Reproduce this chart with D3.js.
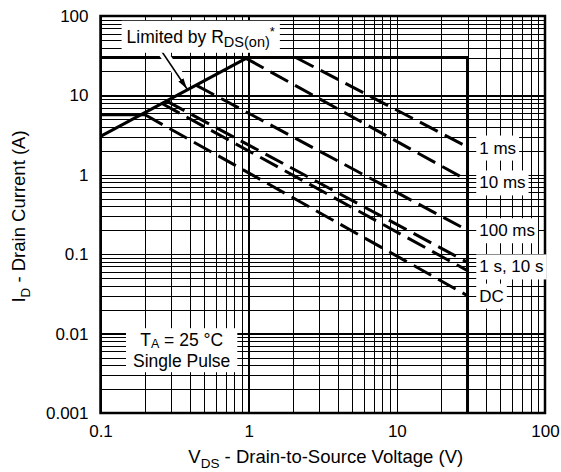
<!DOCTYPE html>
<html>
<head>
<meta charset="utf-8">
<style>
    body { margin: 0; background: #fff; }
    svg { font-family: "Liberation Sans", Arial, Helvetica, sans-serif; }
    .grid path { display: none; }
    .grid line { stroke: #000; shape-rendering: crispEdges; }
    .grid text { font-family: "Liberation Sans", Arial, Helvetica, sans-serif; font-size: 17px; fill: #000; }
    .frame { fill: none; stroke: #000; stroke-width: 2.5; }
    .limit { fill: none; stroke: #000; stroke-width: 3; }
    .pulse { fill: none; stroke: #000; stroke-width: 3; stroke-dasharray: 20 8; }
    .box { fill: #fff; }
    .lbl { font-size: 17px; fill: #000; }
    .title { font-size: 18.5px; fill: #000; }
</style>
</head>
<body>
<div id="chart"></div>
<script src="https://cdn.jsdelivr.net/npm/d3@7/dist/d3.min.js"></script>
<script>

//////////////////// data ////////////////////
let xDecades = [0.1, 1, 10, 100];
let xTickLabels = ['0.1', '1', '10', '100'];
let yDecades = [0.001, 0.01, 0.1, 1, 10, 100];
let yTickLabels = ['0.001', '0.01', '0.1', '1', '10', '100'];

// limite RDS(on)
let rdsV = [0.1, 0.96];
let rdsI = [3.05, 29.3];
// limite courant max / tension max
let maxV = [0.1, 30, 30];
let maxI = [30, 30, 0.001];
// limite courant DC
let dcMaxV = [0.1, 0.2];
let dcMaxI = [5.7, 5.7];

// courbes impulsion : debut sur la limite, fin a 30 V
let pulseNames = ['1 ms', '10 ms', '100 ms', '1 s', '10 s', 'DC'];
let pulseV0 = [2.08, 0.96, 0.444, 0.28, 0.26, 0.2];
let pulseI0 = [30, 29.3, 13.4, 8.46, 7.9, 5.7];
let pulseV1 = [30, 30, 30, 30, 30, 30];
let pulseI1 = [2.24, 0.85, 0.2, 0.079, 0.062, 0.03];

let curveLabels = ['1 ms', '10 ms', '100 ms', '1 s, 10 s', 'DC'];
let curveLabelI = [2.2, 0.8, 0.2, 0.07, 0.03];
let curveLabelV = 36;

//////////////////// layout ////////////////////
let SVG_W = 561;
let SVG_H = 472;
let M = { left: 100.5, top: 16, right: 16, bottom: 59 };
let W = SVG_W - M.left - M.right;
let H = SVG_H - M.top - M.bottom;

let svg = d3.select('#chart').append('svg')
    .attr('width', SVG_W)
    .attr('height', SVG_H);

let defs = svg.append('defs');
defs.append('marker')
    .attr('id', 'head')
    .attr('markerUnits', 'userSpaceOnUse')
    .attr('markerWidth', 11)
    .attr('markerHeight', 6)
    .attr('refX', 11)
    .attr('refY', 3)
    .attr('orient', 'auto')
    .append('path')
    .attr('d', 'M0,0 L11,3 L0,6 Z')
    .attr('fill', '#000');

let g = svg.append('g').attr('transform', `translate(${M.left}, ${M.top})`);

let x = d3.scaleLog().domain([0.1, 100]).range([0, W]);
let y = d3.scaleLog().domain([0.001, 100]).range([H, 0]);

function decadeIdx(list, d) {
    return list.findIndex(v => Math.abs(Math.log10(v / d)) < 1e-6);
}

//////////////////// grille ////////////////////
let gx = g.append('g')
    .attr('class', 'grid')
    .attr('transform', `translate(0, ${H})`)
    .call(d3.axisBottom(x)
        .tickValues(x.ticks())
        .tickSize(-H)
        .tickPadding(12)
        .tickFormat(d => { let i = decadeIdx(xDecades, d); return i >= 0 ? xTickLabels[i] : ''; }));
gx.selectAll('.tick line').attr('stroke-width', d => decadeIdx(xDecades, d) >= 0 ? 1.6 : 1);

let gy = g.append('g')
    .attr('class', 'grid')
    .call(d3.axisLeft(y)
        .tickValues(y.ticks())
        .tickSize(-W)
        .tickPadding(12)
        .tickFormat(d => { let i = decadeIdx(yDecades, d); return i >= 0 ? yTickLabels[i] : ''; }));
gy.selectAll('.tick line').attr('stroke-width', d => decadeIdx(yDecades, d) >= 0 ? 1.6 : 1);

g.append('rect')
    .attr('class', 'frame')
    .attr('width', W)
    .attr('height', H);

//////////////////// courbes ////////////////////
let line = d3.line().x(d => x(d[0])).y(d => y(d[1]));

g.append('path').attr('class', 'limit').attr('d', line(d3.zip(maxV, maxI)));
g.append('path').attr('class', 'limit').attr('d', line(d3.zip(dcMaxV, dcMaxI)));
g.append('path').attr('class', 'limit').attr('d', line(d3.zip(rdsV, rdsI)));

pulseNames.forEach((name, i) => {
    g.append('path')
        .attr('class', 'pulse')
        .attr('data-name', name)
        .attr('d', line([[pulseV0[i], pulseI0[i]], [pulseV1[i], pulseI1[i]]]));
});

//////////////////// textes ////////////////////
function addBox(text, padX, padY) {
    let b = text.node().getBBox();
    d3.select(text.node().parentNode)
        .insert('rect', () => text.node())
        .attr('class', 'box')
        .attr('x', b.x - padX)
        .attr('y', b.y - padY)
        .attr('width', b.width + 2 * padX)
        .attr('height', b.height + 2 * padY);
}

curveLabels.forEach((lbl, i) => {
    let t = g.append('text')
        .attr('class', 'lbl')
        .attr('x', x(curveLabelV))
        .attr('y', y(curveLabelI[i]))
        .attr('dy', '0.35em')
        .text(lbl);
    addBox(t, 3, 3);
});

// fleche RDS(on)
let arrowFrom = [0.256, 37];
let arrowTo = [0.384, 12.05];
g.append('line')
    .attr('x1', x(arrowFrom[0])).attr('y1', y(arrowFrom[1]))
    .attr('x2', x(arrowTo[0])).attr('y2', y(arrowTo[1]) - 3)
    .attr('stroke', '#fff')
    .attr('stroke-width', 9);
g.append('line')
    .attr('x1', x(arrowFrom[0])).attr('y1', y(arrowFrom[1]))
    .attr('x2', x(arrowTo[0])).attr('y2', y(arrowTo[1]))
    .attr('stroke', '#000')
    .attr('stroke-width', 1.5)
    .attr('marker-end', 'url(#head)');

let tLim = g.append('text')
    .attr('class', 'lbl')
    .attr('x', x(0.15))
    .attr('y', y(46))
    .style('font-size', '17.5px');
tLim.append('tspan').text('Limited by R');
tLim.append('tspan').attr('dy', 4).style('font-size', '14.5px').text('DS(on)');
tLim.append('tspan').attr('dy', -11).style('font-size', '13px').text('*');
addBox(tLim, 5, 3);

// conditions de test, deux lignes
let cx = x(0.353);
let cy = y(0.00684);
let tA = g.append('g');
let tA1 = tA.append('text')
    .attr('class', 'lbl')
    .attr('text-anchor', 'middle')
    .attr('x', cx)
    .attr('y', cy - 1)
    .style('font-size', '17.5px');
tA1.append('tspan').text('T');
tA1.append('tspan').attr('dy', 2).style('font-size', '12.5px').text('A');
tA1.append('tspan').attr('dy', -2).text(' = 25 °C');
let tA2 = tA.append('text')
    .attr('class', 'lbl')
    .attr('text-anchor', 'middle')
    .attr('x', cx)
    .attr('y', cy + 20)
    .style('font-size', '17.5px')
    .text('Single Pulse');
addBox(tA, 7, 1.5);

//////////////////// titres ////////////////////
let tx = svg.append('text')
    .attr('class', 'title')
    .attr('text-anchor', 'middle')
    .attr('x', M.left + W / 2 + 3)
    .attr('y', 463);
tx.append('tspan').text('V');
tx.append('tspan').attr('dy', 5).style('font-size', '13.5px').text('DS');
tx.append('tspan').attr('dy', -5).text(' - Drain-to-Source Voltage (V)');

let ty = svg.append('text')
    .attr('class', 'title')
    .attr('text-anchor', 'middle')
    .attr('transform', `translate(24.5, ${M.top + H / 2 + 2}) rotate(-90)`);
ty.append('tspan').text('I');
ty.append('tspan').attr('dy', 5).style('font-size', '13.5px').text('D');
ty.append('tspan').attr('dy', -5).text(' - Drain Current (A)');

</script>
</body>
</html>
